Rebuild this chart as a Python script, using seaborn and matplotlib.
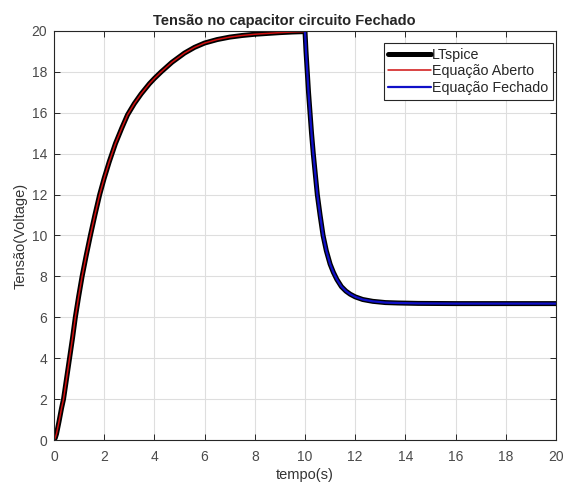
import numpy as np
import pandas as pd
import matplotlib
matplotlib.use("Agg")
import matplotlib.pyplot as plt
import seaborn as sns

# Charging phase (circuit open)
t_charge = [0.0, 0.05, 0.1, 0.2, 0.3, 0.38, 0.5, 0.62, 0.74, 0.85, 0.98, 1.12, 1.28, 1.45, 1.63, 1.82,
            2.0, 2.2, 2.45, 2.7, 2.93, 3.2, 3.47, 3.8, 4.0, 4.27, 4.7, 5.2, 5.6, 6.0, 6.5, 7.0, 7.5,
            8.0, 8.5, 9.0, 9.5, 10.0]
v_charge = [0.0, 0.1, 0.3, 0.9, 1.55, 2.0, 3.0, 4.0, 5.0, 6.0, 7.0, 8.0, 9.0, 10.0, 11.0, 12.0,
            12.8, 13.6, 14.5, 15.25, 15.9, 16.45, 16.92, 17.42, 17.68, 18.0, 18.47, 18.92, 19.2, 19.41,
            19.58, 19.7, 19.78, 19.84, 19.88, 19.92, 19.95, 19.97]

# Discharging phase (circuit closed)
t_discharge = [10.0, 10.04, 10.09, 10.14, 10.2, 10.26, 10.33, 10.41, 10.49, 10.6, 10.72, 10.85, 11.0,
               11.13, 11.27, 11.45, 11.63, 11.8, 12.0, 12.3, 12.7, 13.2, 13.7, 14.5, 16.0, 18.0, 20.0]
v_discharge = [19.97, 19.0, 18.0, 17.0, 16.0, 15.0, 14.0, 13.0, 12.0, 11.0, 10.0, 9.25, 8.6,
               8.2, 7.85, 7.5, 7.28, 7.13, 7.0, 6.87, 6.78, 6.72, 6.7, 6.68, 6.67, 6.67, 6.67]

series_names = ["LTspice", "Equação Aberto", "Equação Fechado"]

t_lt = t_charge + t_discharge[1:]
v_lt = v_charge + v_discharge[1:]

df_lt = pd.DataFrame({"t": t_lt, "v": v_lt})
df_ab = pd.DataFrame({"t": t_charge, "v": v_charge})
df_fe = pd.DataFrame({"t": t_discharge, "v": v_discharge})

sns.set_style("white")
plt.rcParams["font.family"] = ["Liberation Sans", "DejaVu Sans"]

fig = plt.figure(figsize=(5.63, 4.84), dpi=100)
ax = fig.add_axes([0.0959, 0.0909, 0.8917, 0.8451])

sns.lineplot(data=df_lt, x="t", y="v", ax=ax, color="black", linewidth=3.6,
             label=series_names[0], sort=False, estimator=None)
sns.lineplot(data=df_ab, x="t", y="v", ax=ax, color="#d01010", linewidth=1.1,
             label=series_names[1], sort=False, estimator=None)
sns.lineplot(data=df_fe, x="t", y="v", ax=ax, color="#1010c8", linewidth=1.6,
             label=series_names[2], sort=False, estimator=None)

ax.set_xlim(0, 20)
ax.set_ylim(0, 20)
ax.set_xticks(np.arange(0, 21, 2))
ax.set_yticks(np.arange(0, 21, 2))
ax.grid(True, color="#dedede", linewidth=0.8)
ax.set_axisbelow(True)
for s in ax.spines.values():
    s.set_color("#262626")
    s.set_linewidth(0.8)
    s.set_visible(True)
ax.tick_params(direction="in", length=4, width=0.7, colors="#262626", labelcolor="#4a4a4a",
               labelsize=10, top=True, right=True, bottom=True, left=True)
ax.tick_params(axis="x", pad=7)
ax.tick_params(axis="y", pad=5)

ax.set_title("Tensão no capacitor circuito Fechado", fontsize=10.5, fontweight="bold",
             pad=4, x=0.458)
ax.set_xlabel("tempo(s)", fontsize=10.5, color="#333333", labelpad=3)
ax.set_ylabel("Tensão(Voltage)", fontsize=10.5, color="#333333", labelpad=3)

leg = ax.legend(loc="upper right", bbox_to_anchor=(0.993, 0.97), fontsize=10.3, frameon=True,
                fancybox=False, edgecolor="#262626", framealpha=1, handlelength=3.0,
                handletextpad=0.05, borderpad=0.3, labelspacing=0.2, borderaxespad=0)
leg.get_frame().set_linewidth(0.8)

fig.savefig("out.png", dpi=100)
